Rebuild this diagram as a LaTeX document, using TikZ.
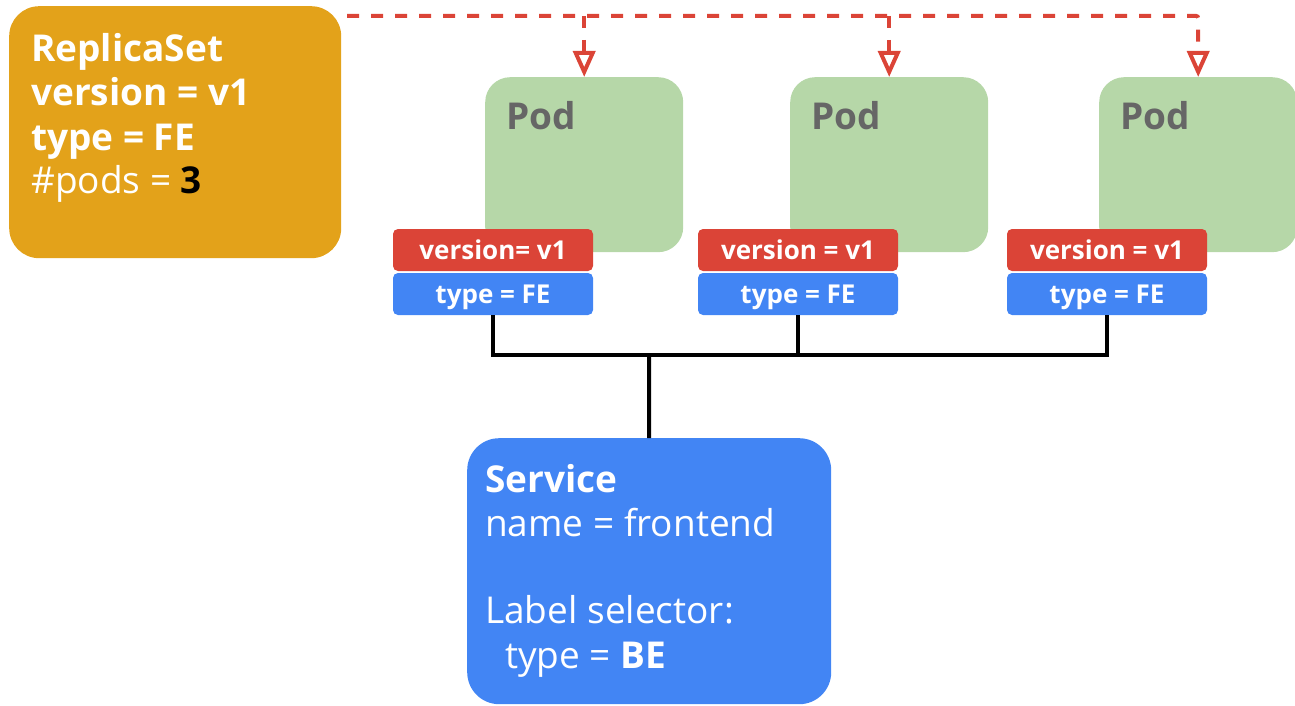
\documentclass[tikz,border=0pt]{standalone}
\usepackage{fontspec}
\setmainfont{Open Sans}
\usetikzlibrary{arrows.meta}
\definecolor{rsorange}{HTML}{E3A21A}
\definecolor{podgreen}{HTML}{B6D7A8}
\definecolor{tagred}{HTML}{DB4437}
\definecolor{tagblue}{HTML}{4285F4}
\definecolor{podgray}{HTML}{666666}
\tikzset{
  panel/.style={draw=none, inner sep=0pt, anchor=north west},
  bigtxt/.style={anchor=base west, inner sep=0pt, text=white, font=\fontsize{37}{44}\selectfont},
  podtxt/.style={anchor=base west, inner sep=0pt, text=podgray, font=\fontsize{37}{44}\selectfont\bfseries},
  tag/.style={inner sep=0pt, minimum width=200pt, minimum height=42pt, rounded corners=5pt,
    text=white, font=\fontsize{26}{30}\selectfont\bfseries, text height=20pt, text depth=1pt},
  wire/.style={line width=4pt, black},
  dashline/.style={line width=4pt, tagred, dash pattern=on 12pt off 12pt,
    -{Triangle[open, length=26pt, width=22pt, line width=4pt]}},
}
\begin{document}
\begin{tikzpicture}[x=1pt, y=-1pt]
\useasboundingbox (0,0) rectangle (1295,706);

% ReplicaSet
\node[panel, fill=rsorange, minimum width=332pt, minimum height=252pt, rounded corners=30pt] (rs) at (9,6) {};
\node[bigtxt] (rs1) at (31,62) {\bfseries ReplicaSet};
\node[bigtxt] (rs2) at (31,106) {\bfseries version = v1};
\node[bigtxt] (rs3) at (31,150) {\bfseries type = FE};
\node[bigtxt] (rs4) at (31,193) {\#pods = \textcolor{black}{\bfseries 3}};

% Pods
\node[panel, fill=podgreen, minimum width=198pt, minimum height=175pt, rounded corners=25pt] (pod1) at (485,77) {};
\node[panel, fill=podgreen, minimum width=198pt, minimum height=175pt, rounded corners=25pt] (pod2) at (790,77) {};
\node[panel, fill=podgreen, minimum width=198pt, minimum height=175pt, rounded corners=25pt] (pod3) at (1099,77) {};
\node[podtxt] (p1) at (506,129) {Pod};
\node[podtxt] (p2) at (811,129) {Pod};
\node[podtxt] (p3) at (1120,129) {Pod};

% Labels on the pods
\node[tag, fill=tagred] (v1) at (493,250) {version= v1};
\node[tag, fill=tagblue] (t1) at (493,294) {type = FE};
\node[tag, fill=tagred] (v2) at (798,250) {version = v1};
\node[tag, fill=tagblue] (t2) at (798,294) {type = FE};
\node[tag, fill=tagred] (v3) at (1107,250) {version = v1};
\node[tag, fill=tagblue] (t3) at (1107,294) {type = FE};

% Service
\node[panel, fill=tagblue, minimum width=364pt, minimum height=266pt, rounded corners=32pt] (svc) at (467,438) {};
\node[bigtxt] (s1) at (485,492) {\bfseries Service};
\node[bigtxt] (s2) at (485,536) {name = frontend};
\node[bigtxt] (s3) at (485,623) {Label selector:};
\node[bigtxt] (s4) at (505,668) {type = \textbf{BE}};

% Selector wiring
\coordinate (bus) at (649,355);
\draw[wire] (t1.south) |- (bus) -| (t2.south);
\draw[wire] (t2.south) -- (t2.south |- bus) -| (t3.south);
\draw[wire] (bus) -- (svc.north);

% ReplicaSet ownership
\coordinate (rsout) at (347,16);
\draw[dashline, rounded corners=2pt] (rsout) -| (pod3.north);
\draw[dashline] (pod1.north |- rsout) -- (pod1.north);
\draw[dashline] (pod2.north |- rsout) -- (pod2.north);
\end{tikzpicture}
\end{document}
